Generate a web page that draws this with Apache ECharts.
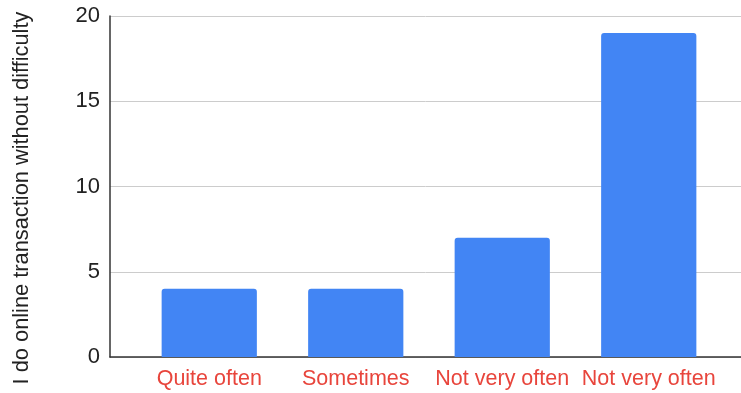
<!DOCTYPE html>
<html>
<head>
<meta charset="utf-8">
<script src="https://cdn.jsdelivr.net/npm/echarts@6/dist/echarts.min.js"></script>
<style>
  html, body { margin: 0; padding: 0; background: #fff; }
  #chart { width: 741px; height: 393px; }
</style>
</head>
<body>
<div id="chart"></div>
<script>
// Responses per frequency category
const categories = ['Quite often', 'Sometimes', 'Not very often', 'Not very often'];
const counts = [4, 4, 7, 19];
const yTicks = [0, 5, 10, 15, 20];
const axisTitle = 'I do online transaction without difficulty';

const FONT = '"Liberation Sans", Arial, sans-serif';
const yMin = yTicks[0];
const yMax = yTicks[yTicks.length - 1];
const yStep = yTicks[1] - yTicks[0];

const chart = echarts.init(document.getElementById('chart'), null, { renderer: 'canvas' });

chart.setOption({
  animation: false,
  backgroundColor: '#ffffff',
  grid: [
    // bars sit in an inset band
    { left: 136, right: 19, top: 16, bottom: 36 },
    // frame: axis lines and gridlines across the full width
    { left: 110, right: 0, top: 16, bottom: 36 }
  ],
  xAxis: [
    {
      type: 'category',
      gridIndex: 0,
      data: categories,
      axisLine: { show: false },
      axisTick: { show: false },
      axisLabel: {
        color: '#e8453c',
        fontFamily: FONT,
        fontSize: 21.5,
        margin: 11,
        interval: 0
      }
    },
    {
      type: 'value',
      gridIndex: 1,
      min: 0, max: 1,
      axisLine: { show: true, onZero: false, lineStyle: { color: '#333333', width: 1.5 } },
      axisTick: { show: false },
      axisLabel: { show: false },
      splitLine: { show: false }
    }
  ],
  yAxis: [
    {
      type: 'value',
      gridIndex: 0,
      min: yMin, max: yMax, interval: yStep,
      axisLine: { show: false },
      axisTick: { show: false },
      axisLabel: { show: false },
      splitLine: { show: false }
    },
    {
      type: 'value',
      gridIndex: 1,
      min: yMin, max: yMax, interval: yStep,
      axisLine: { show: true, lineStyle: { color: '#333333', width: 1.5 } },
      axisTick: { show: false },
      axisLabel: {
        color: '#222222',
        fontFamily: FONT,
        fontSize: 22,
        margin: 10
      },
      splitLine: { show: true, lineStyle: { color: '#cccccc', width: 1 } }
    }
  ],
  graphic: [
    {
      type: 'text',
      rotation: Math.PI / 2,
      x: 22,
      y: 198,
      style: {
        text: axisTitle,
        fill: '#222222',
        font: '21.8px ' + FONT,
        align: 'center',
        verticalAlign: 'middle'
      }
    }
  ],
  series: [
    {
      type: 'bar',
      xAxisIndex: 0,
      yAxisIndex: 0,
      data: counts,
      barCategoryGap: '35%',
      itemStyle: { color: '#4285f4', borderRadius: [3, 3, 0, 0] },
      z: 3
    }
  ]
});
</script>
</body>
</html>
